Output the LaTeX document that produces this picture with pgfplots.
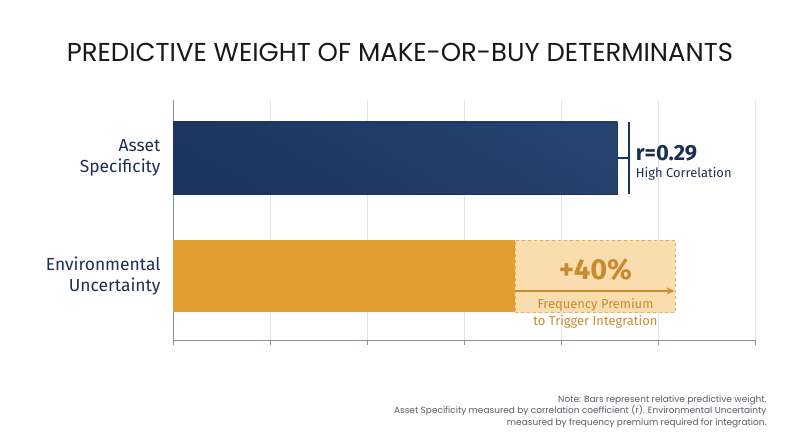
\documentclass[border=0pt]{standalone}
\usepackage{pgfplots}
\pgfplotsset{compat=1.18}
\usepackage{fontspec}
\setmainfont{Lato}
\newfontfamily\titlefont{Poppins}
\newfontfamily\notefont{Poppins}
\newfontfamily\labfont{Fira Sans}
\usetikzlibrary{arrows.meta}

\definecolor{navy}{HTML}{1B3560}
\definecolor{navylight}{HTML}{26426E}
\definecolor{labnavy}{HTML}{1B2F55}
\definecolor{amber}{HTML}{E09D32}
\definecolor{amberlight}{HTML}{F8D9A6}
\definecolor{amberline}{HTML}{E6B062}
\definecolor{ambertext}{HTML}{C98A2E}
\definecolor{axisgray}{HTML}{8A90A6}
\definecolor{gridgray}{HTML}{E2E4E9}
\definecolor{notegray}{HTML}{555A63}

\begin{document}
\begin{tikzpicture}[x=1bp,y=1bp]
\path[use as bounding box] (0,0) rectangle (800,447);

\node[font=\titlefont\fontsize{26}{30}\selectfont, text=black!90] at (400,395) {PREDICTIVE WEIGHT OF MAKE-OR-BUY DETERMINANTS};

\begin{axis}[
  at={(173bp,107bp)}, anchor=south west,
  scale only axis,
  width=582bp, height=240bp,
  xmin=0, xmax=6,
  ymin=0.464, ymax=2.489,
  axis x line=bottom, axis y line=left,
  axis line style={axisgray, line width=0.9pt, -},
  xtick={0,1,...,6}, xticklabels={},
  xmajorgrids, grid style={gridgray, line width=0.8pt},
  tick align=outside, major tick length=5bp,
  x tick style={axisgray, line width=0.9pt},
  ytick={1,2},
  yticklabels={Environmental\\Uncertainty, Asset\\Specificity},
  y tick style={draw=none},
  yticklabel style={align=right, font=\labfont\fontsize{17.5}{21}\selectfont, text=labnavy, xshift=-4bp},
  clip=false,
]

% extension of the amber bar (frequency premium)
\addplot[fill=amberlight, draw=amberline, dashed, line width=0.9pt, fill opacity=0.9]
  coordinates {(3.53,0.695) (5.18,0.695) (5.18,1.305) (3.53,1.305)} -- cycle;

% bars
\addplot[xbar, bar width=72bp, draw=none, fill=amber] coordinates {(3.53,1)};
\addplot[xbar, bar width=72bp, draw=navy, line width=0.6pt, shading=axis, bottom color=navy, top color=navylight, shading angle=-30] coordinates {(4.58,2)};

% bracket on asset bar
\addplot[navy, line width=1.5pt] coordinates {(4.58,2) (4.70,2)};
\addplot[navy, line width=1.5pt] coordinates {(4.70,1.695) (4.70,2.305)};

% premium arrow
\addplot[amber!90!black, line width=1.3pt, -{Stealth[length=8bp,width=7bp]}] coordinates {(3.53,0.878) (5.17,0.878)};

\node[anchor=west, inner sep=0pt, font=\labfont\bfseries\fontsize{22}{24}\selectfont, text=labnavy] at (axis cs:4.77,2.04) {r=0.29};
\node[anchor=west, inner sep=0pt, font=\labfont\fontsize{13}{15}\selectfont, text=labnavy] at (axis cs:4.77,1.87) {High Correlation};

\node[font=\labfont\bfseries\fontsize{29}{32}\selectfont, text=ambertext] at (axis cs:4.355,1.06) {+40\%};
\node[align=center, font=\labfont\fontsize{13}{17}\selectfont, text=ambertext] at (axis cs:4.355,0.69) {Frequency Premium\\to Trigger Integration};
\end{axis}

\node[anchor=north east, align=right, font=\notefont\fontsize{9}{11.5}\selectfont, text=notegray] at (770,55)
  {Note: Bars represent relative predictive weight.\\
   Asset Specificity measured by correlation coefficient (r). Environmental Uncertainty\\
   measured by frequency premium required for integration.};
\end{tikzpicture}
\end{document}
